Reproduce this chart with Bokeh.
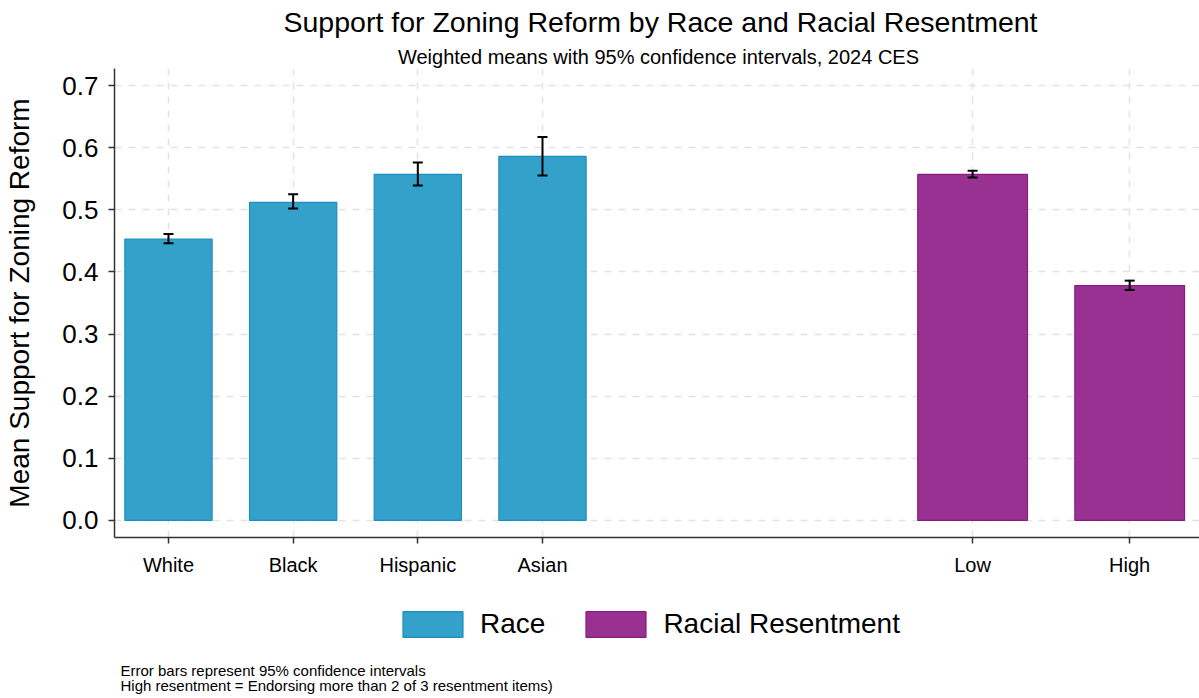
from bokeh.plotting import figure
from bokeh.layouts import column
from bokeh.models import (ColumnDataSource, Whisker, TeeHead, Legend, LegendItem,
                          FixedTicker, PrintfTickFormatter, Range1d, Label)
from bokeh.embed import file_html
from bokeh.resources import INLINE

# ---- data ----
race_cats = ["White", "Black", "Hispanic", "Asian"]
race_means = [0.453, 0.512, 0.557, 0.586]
race_lower = [0.446, 0.502, 0.539, 0.555]
race_upper = [0.461, 0.525, 0.576, 0.617]

rr_cats = ["Low", "High"]
rr_means = [0.557, 0.378]
rr_lower = [0.552, 0.371]
rr_upper = [0.563, 0.386]

y_ticks = [0.0, 0.1, 0.2, 0.3, 0.4, 0.5, 0.6, 0.7]

title_text = "Support for Zoning Reform by Race and Racial Resentment"
subtitle_text = "Weighted means with 95% confidence intervals, 2024 CES"
ylabel_text = "Mean Support for Zoning Reform"
legend_labels = ["Race", "Racial Resentment"]
notes = ["Error bars represent 95% confidence intervals",
         "High resentment = Endorsing more than 2 of 3 resentment items)"]

# ---- layout positions (not data) ----
race_x = [1, 2, 3, 4]
rr_x = [7.45, 8.71]
race_w = 0.70
rr_w = 0.88

FONT = "Liberation Sans"
BLUE = "#33a1c9"
BLUE_LINE = "#1b8fbf"
PURPLE = "#993192"
PURPLE_LINE = "#861c80"

W = 1199
HEAD_H = 68
MAIN_H = 522
FOOT_H = 108
LEFT = 114


def blank(height):
    fig = figure(width=W, height=height, output_backend="svg", toolbar_location=None,
                 x_range=Range1d(0, W - LEFT), y_range=Range1d(0, height),
                 min_border_left=LEFT, min_border_right=0, min_border_top=0, min_border_bottom=0)
    fig.title = None
    fig.axis.visible = False
    fig.grid.visible = False
    fig.outline_line_color = None
    fig.background_fill_color = "white"
    fig.border_fill_color = "white"
    return fig


# ---- header: title and subtitle ----
h = blank(HEAD_H)
h.add_layout(Label(x=660 - LEFT, y=HEAD_H - 21, x_units="screen", y_units="screen",
                   text=title_text, text_font=FONT, text_font_size="28.5px",
                   text_align="center", text_baseline="middle", text_color="black"))
h.add_layout(Label(x=658 - LEFT, y=HEAD_H - 56, x_units="screen", y_units="screen",
                   text=subtitle_text, text_font=FONT, text_font_size="20px",
                   text_align="center", text_baseline="middle", text_color="black"))

# ---- main plot ----
p = figure(width=W, height=MAIN_H, output_backend="svg", toolbar_location=None,
           x_range=Range1d(0.567, 9.27), y_range=Range1d(-0.0274, 0.7274),
           min_border_left=LEFT, min_border_right=0, min_border_top=0, min_border_bottom=53)
p.title = None
p.outline_line_color = None
p.background_fill_color = "white"
p.border_fill_color = "white"

race_src = ColumnDataSource(dict(x=race_x, top=race_means, lower=race_lower, upper=race_upper, cat=race_cats))
rr_src = ColumnDataSource(dict(x=rr_x, top=rr_means, lower=rr_lower, upper=rr_upper, cat=rr_cats))

p.vbar(x="x", top="top", bottom=0, width=race_w, source=race_src,
       fill_color=BLUE, line_color=BLUE_LINE, line_width=1.2)
p.vbar(x="x", top="top", bottom=0, width=rr_w, source=rr_src,
       fill_color=PURPLE, line_color=PURPLE_LINE, line_width=1.2)

for src in (race_src, rr_src):
    w = Whisker(base="x", upper="upper", lower="lower", source=src, level="overlay",
                line_color="black", line_width=2,
                upper_head=TeeHead(size=10, line_width=2, line_color="black"),
                lower_head=TeeHead(size=10, line_width=2, line_color="black"))
    p.add_layout(w)

all_x = race_x + rr_x
labels = {}
for xv, c in zip(race_x, race_cats):
    labels[xv] = c
for xv, c in zip(rr_x, rr_cats):
    labels[xv] = c
p.xaxis.ticker = FixedTicker(ticks=all_x)
p.xaxis.major_label_overrides = labels
p.xaxis.major_label_text_font = FONT
p.xaxis.major_label_text_font_size = "20px"
p.xaxis.major_label_text_color = "black"
p.xaxis.major_label_standoff = 10
p.xaxis.major_tick_out = 6
p.xaxis.major_tick_in = 0
p.xaxis.minor_tick_line_color = None
p.xaxis.axis_line_color = "#333333"
p.xaxis.axis_line_width = 1.5
p.xaxis.major_tick_line_color = "#333333"
p.xaxis.major_tick_line_width = 1.5

p.yaxis.ticker = FixedTicker(ticks=y_ticks)
p.yaxis.formatter = PrintfTickFormatter(format="%.1f")
p.yaxis.axis_label = ylabel_text
p.yaxis.axis_label_text_font = FONT
p.yaxis.axis_label_text_font_size = "28px"
p.yaxis.axis_label_text_font_style = "normal"
p.yaxis.axis_label_text_color = "black"
p.yaxis.axis_label_standoff = 24
p.yaxis.major_label_text_font = FONT
p.yaxis.major_label_text_font_size = "26px"
p.yaxis.major_label_text_color = "black"
p.yaxis.major_label_standoff = 10
p.yaxis.major_tick_out = 6
p.yaxis.major_tick_in = 0
p.yaxis.minor_tick_line_color = None
p.yaxis.axis_line_color = "#333333"
p.yaxis.axis_line_width = 1.5
p.yaxis.major_tick_line_color = "#333333"
p.yaxis.major_tick_line_width = 1.5

p.xgrid.ticker = FixedTicker(ticks=all_x)
p.ygrid.ticker = FixedTicker(ticks=y_ticks)
for g in (p.xgrid, p.ygrid):
    g.grid_line_color = "#e3e3e3"
    g.grid_line_dash = "7 7"
    g.grid_line_width = 1.5
    g.level = "underlay"

# ---- footer: legend and notes ----
f = blank(FOOT_H)

# legend swatch renderers (kept off the visible range; only their styles are used)
lr1 = f.rect(x=[-1000], y=[-1000], width=1, height=1, fill_color=BLUE, line_color=BLUE_LINE, line_width=1.2)
lr2 = f.rect(x=[-1000], y=[-1000], width=1, height=1, fill_color=PURPLE, line_color=PURPLE_LINE, line_width=1.2)

legend = Legend(items=[LegendItem(label=legend_labels[0], renderers=[lr1]),
                       LegendItem(label=legend_labels[1], renderers=[lr2])],
                orientation="horizontal", location=(395 - LEFT, 58),
                label_text_font=FONT, label_text_font_size="28px", label_text_color="black",
                glyph_width=75, glyph_height=32, label_height=32, label_standoff=10,
                spacing=33, padding=2, margin=0, border_line_color=None,
                background_fill_alpha=0)
f.add_layout(legend, "center")

for i, note in enumerate(notes):
    f.add_layout(Label(x=120 - LEFT, y=FOOT_H - (670 - (HEAD_H + MAIN_H)) - 15 * i,
                       x_units="screen", y_units="screen",
                       text=note, text_font=FONT, text_font_size="15px",
                       text_baseline="alphabetic", text_color="black"))

layout = column(h, p, f, spacing=0)
open("out.html", "w").write(file_html(layout, INLINE))
